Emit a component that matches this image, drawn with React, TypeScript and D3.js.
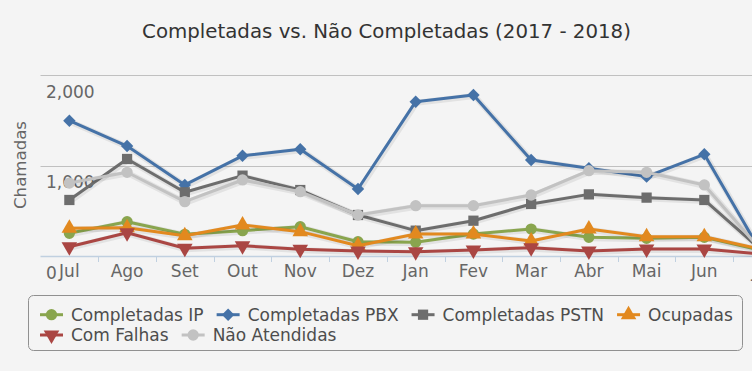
import { useEffect, useRef } from "react";
import { select, scaleBand, scaleLinear, line, symbol, symbolCircle, symbolSquare, symbolTriangle, format } from "d3";

const months = ["Jul", "Ago", "Set", "Out", "Nov", "Dez", "Jan", "Fev", "Mar", "Abr", "Mai", "Jun", "Jul"];
const yTicks = [0, 1000, 2000];

const completadasIP = [251, 379, 240, 280, 324, 158, 151, 243, 298, 207, 196, 207, 60];
const completadasPBX = [1495, 1215, 785, 1107, 1179, 740, 1705, 1779, 1061, 969, 877, 1124, 23];
const completadasPSTN = [619, 1072, 704, 888, 729, 453, 280, 390, 575, 681, 645, 619, 57];
const ocupadas = [306, 313, 224, 343, 269, 114, 243, 243, 166, 298, 213, 213, 72];
const comFalhas = [103, 257, 85, 114, 74, 55, 48, 66, 92, 55, 77, 77, 20];
const naoAtendidas = [806, 925, 600, 840, 711, 453, 556, 556, 674, 943, 925, 785, 50];

const seriesNames = ["Completadas IP", "Completadas PBX", "Completadas PSTN", "Ocupadas", "Com Falhas", "Não Atendidas"];
const seriesValues = [completadasIP, completadasPBX, completadasPSTN, ocupadas, comFalhas, naoAtendidas];
const seriesColors = ["#89A54E", "#4572A7", "#6d6d6d", "#E2891F", "#AA4643", "#c2c2c2"];
const seriesShapes = ["circle", "diamond", "square", "triangle", "triangle-down", "circle"];

const W = 752;
const H = 371;
const FONT = "'DejaVu Sans', Verdana, sans-serif";

const App: React.FC = () => {
  const svgRef = useRef<SVGSVGElement>(null);

  useEffect(() => {
    document.body.style.margin = "0";
    const svg = select(svgRef.current);
    svg.selectAll("*").remove();

    svg.append("rect").attr("width", W).attr("height", H).attr("fill", "#f4f4f4");

    const x: any = scaleBand<number>()
      .domain(months.map((_, i) => i))
      .range([40.5, 790.9]);
    const y: any = scaleLinear().domain([0, 2000]).range([256, 75]);
    const cx = (i: number) => x(i) + x.bandwidth() / 2;

    // title
    svg
      .append("text")
      .attr("x", 386.5)
      .attr("y", 38)
      .attr("text-anchor", "middle")
      .attr("font-family", FONT)
      .attr("font-size", 19.8)
      .attr("fill", "#333")
      .text("Completadas vs. Não Completadas (2017 - 2018)");

    // grid + y labels
    const fmt = format(",");
    yTicks.forEach((t) => {
      if (t > 0) {
        svg
          .append("line")
          .attr("x1", 40.5)
          .attr("x2", W)
          .attr("y1", Math.round(y(t)) + 0.5)
          .attr("y2", Math.round(y(t)) + 0.5)
          .attr("stroke", "#c0c0c0")
          .attr("stroke-width", 1);
      }
      svg
        .append("text")
        .attr("x", 46)
        .attr("y", y(t) + 22.5)
        .attr("font-family", FONT)
        .attr("font-size", 17)
        .attr("fill", "#666")
        .text(fmt(t));
    });

    // x axis
    svg
      .append("line")
      .attr("x1", 40.5)
      .attr("x2", W)
      .attr("y1", 256.5)
      .attr("y2", 256.5)
      .attr("stroke", "#c0d0e0")
      .attr("stroke-width", 1.5);
    months.forEach((m, i) => {
      const tx = Math.round(x(i) + x.bandwidth()) + 0.5;
      svg
        .append("line")
        .attr("x1", tx)
        .attr("x2", tx)
        .attr("y1", 256)
        .attr("y2", 262)
        .attr("stroke", "#c0d0e0");
      svg
        .append("text")
        .attr("x", cx(i))
        .attr("y", 276.5)
        .attr("text-anchor", "middle")
        .attr("font-family", FONT)
        .attr("font-size", 17)
        .attr("fill", "#666")
        .text(m);
    });

    // y axis title
    svg
      .append("text")
      .attr("transform", "translate(26,165) rotate(-90)")
      .attr("text-anchor", "middle")
      .attr("font-family", FONT)
      .attr("font-size", 16.6)
      .attr("fill", "#666")
      .text("Chamadas");

    const shapeFor = (s: string, size: number) => {
      if (s === "circle") return symbol().type(symbolCircle).size(size)();
      if (s === "diamond") {
        const r = Math.sqrt(size) * 0.62;
        return `M0,${-r}L${r},0L0,${r}L${-r},0Z`;
      }
      if (s === "square") return symbol().type(symbolSquare).size(size * 1.05)();
      return symbol().type(symbolTriangle).size(size * 1.05)();
    };

    const myLine: any = line<number>()
      .x((_, i) => cx(i))
      .y((v) => y(v));

    const plot = svg.append("g");
    seriesValues.forEach((vals, k) => {
      const g = plot.append("g");
      // soft shadow like the original
      g.append("path")
        .attr("d", myLine(vals))
        .attr("fill", "none")
        .attr("stroke", "#000")
        .attr("stroke-opacity", 0.07)
        .attr("stroke-width", 6)
        .attr("stroke-linejoin", "round")
        .attr("transform", "translate(1,1)");
      g.append("path")
        .attr("d", myLine(vals))
        .attr("fill", "none")
        .attr("stroke", seriesColors[k])
        .attr("stroke-width", 3)
        .attr("stroke-linejoin", "round");
      g.selectAll(".pt")
        .data(vals)
        .join("path")
        .attr("class", "pt")
        .attr("d", shapeFor(seriesShapes[k], 100))
        .attr("fill", seriesColors[k])
        .attr("transform", (v, i) =>
          `translate(${cx(i)},${y(v)})` + (seriesShapes[k] === "triangle-down" ? " rotate(180)" : "")
        );
    });

    // legend
    const legend = svg.append("g");
    legend
      .append("rect")
      .attr("x", 28.5)
      .attr("y", 295.5)
      .attr("width", 714)
      .attr("height", 55)
      .attr("rx", 5)
      .attr("fill", "none")
      .attr("stroke", "#909090")
      .attr("stroke-width", 1);

    const rows = [[0, 1, 2, 3], [4, 5]];
    rows.forEach((row, r) => {
      let lx = 40;
      const base = 320.7 + r * 20.3;
      row.forEach((k) => {
        const item = legend.append("g");
        item
          .append("line")
          .attr("x1", lx)
          .attr("x2", lx + 23)
          .attr("y1", base - 6)
          .attr("y2", base - 6)
          .attr("stroke", seriesColors[k])
          .attr("stroke-width", 3);
        item
          .append("path")
          .attr("d", shapeFor(seriesShapes[k], 100))
          .attr("fill", seriesColors[k])
          .attr("transform", `translate(${lx + 11.5},${base - 6})` + (seriesShapes[k] === "triangle-down" ? " rotate(180)" : ""));
        const t = item
          .append("text")
          .attr("x", lx + 31)
          .attr("y", base)
          .attr("font-family", FONT)
          .attr("font-size", 17)
          .attr("fill", "#4d4d4d")
          .text(seriesNames[k]);
        const w = (t.node() as SVGTextElement).getComputedTextLength();
        lx += 31 + w + 13;
      });
    });
  }, []);

  return <svg ref={svgRef} width={W} height={H} style={{ display: "block" }} />;
};

export default App;
